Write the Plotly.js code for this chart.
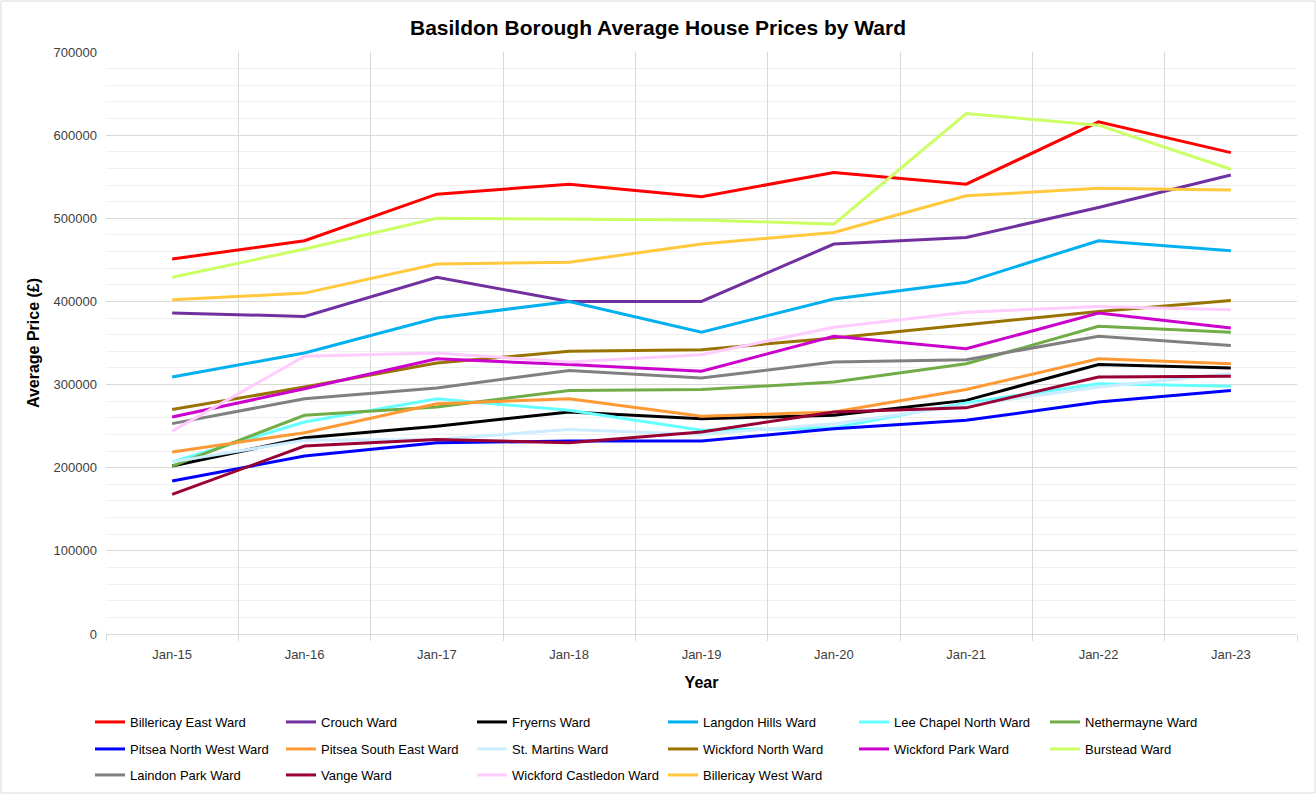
<!DOCTYPE html>
<html>
<head>
<meta charset="utf-8">
<script src="https://cdn.plot.ly/plotly-3.0.1.min.js"></script>
<style>
  body { margin: 0; background: #fff; }
  #chart { width: 1316px; height: 794px; }
</style>
</head>
<body>
<div id="chart"></div>
<script>
let years = ['Jan-15', 'Jan-16', 'Jan-17', 'Jan-18', 'Jan-19', 'Jan-20', 'Jan-21', 'Jan-22', 'Jan-23'];

let wardNames = [
    'Billericay East Ward', 'Crouch Ward', 'Fryerns Ward', 'Langdon Hills Ward',
    'Lee Chapel North Ward', 'Nethermayne Ward', 'Pitsea North West Ward', 'Pitsea South East Ward',
    'St. Martins Ward', 'Wickford North Ward', 'Wickford Park Ward', 'Burstead Ward',
    'Laindon Park Ward', 'Vange Ward', 'Wickford Castledon Ward', 'Billericay West Ward'
];

let billericayEast = [451000, 473000, 529000, 541000, 526000, 555000, 541000, 616000, 579000];
let crouch = [386000, 382000, 429000, 400000, 400000, 469000, 477000, 513000, 552000];
let fryerns = [202000, 236000, 250000, 267000, 259000, 263000, 281000, 324000, 320000];
let langdonHills = [309000, 338000, 380000, 400000, 363000, 403000, 423000, 473000, 461000];
let leeChapelNorth = [207000, 255000, 283000, 269000, 245000, 248000, 278000, 301000, 298000];
let nethermayne = [202000, 263000, 273000, 293000, 294000, 303000, 325000, 370000, 363000];
let pitseaNorthWest = [184000, 214000, 230000, 232000, 232000, 247000, 257000, 279000, 293000];
let pitseaSouthEast = [219000, 242000, 277000, 283000, 262000, 267000, 294000, 331000, 325000];
let stMartins = [207000, 233000, 234000, 246000, 240000, 253000, 275000, 297000, 313000];
let wickfordNorth = [270000, 297000, 326000, 340000, 342000, 356000, 372000, 388000, 401000];
let wickfordPark = [261000, 295000, 331000, 324000, 316000, 358000, 343000, 386000, 368000];
let burstead = [429000, 463000, 500000, 499000, 498000, 493000, 626000, 612000, 559000];
let laindonPark = [253000, 283000, 296000, 317000, 308000, 327000, 330000, 358000, 347000];
let vange = [168000, 226000, 234000, 230000, 243000, 267000, 272000, 309000, 310000];
let wickfordCastledon = [244000, 334000, 338000, 327000, 336000, 369000, 387000, 394000, 390000];
let billericayWest = [402000, 410000, 445000, 447000, 469000, 483000, 527000, 536000, 534000];

let wardValues = [
    billericayEast, crouch, fryerns, langdonHills, leeChapelNorth, nethermayne,
    pitseaNorthWest, pitseaSouthEast, stMartins, wickfordNorth, wickfordPark, burstead,
    laindonPark, vange, wickfordCastledon, billericayWest
];

let wardColors = [
    '#FF0000', '#7030A0', '#000000', '#00B0F0', '#66FFFF', '#70AD47',
    '#0000FF', '#FF9933', '#CCECFF', '#997300', '#CC00CC', '#CCFF66',
    '#808080', '#990033', '#FFCCFF', '#FFC83D'
];

let font = 'Liberation Sans, Arial, sans-serif';

// excel legend has 6 entries per row, one plotly legend per row
let legendIds = ['legend', 'legend2', 'legend3'];

let data = [];
for (let i = 0; i < wardNames.length; i++) {
    data.push({
        x: years,
        y: wardValues[i],
        name: wardNames[i],
        type: 'scatter',
        mode: 'lines',
        hoverinfo: 'skip',
        legend: legendIds[Math.floor(i / 6)],
        line: { color: wardColors[i], width: 3 }
    });
}

// margins match the excel plot area
let ml = 106, mr = 19, mt = 52, mb = 160;
let pw = 1316 - ml - mr, ph = 794 - mt - mb;

function legendRow(topPx) {
    return {
        orientation: 'h',
        x: (90 - ml) / pw,
        xanchor: 'left',
        y: -(topPx - mt - ph) / ph,
        yanchor: 'top',
        entrywidth: 146,
        entrywidthmode: 'pixels',
        itemwidth: 30,
        font: { family: font, size: 13, color: '#000000' },
        bgcolor: 'rgba(0,0,0,0)'
    };
}

let layout = {
    width: 1316,
    height: 794,
    margin: { l: ml, r: mr, t: mt, b: mb, autoexpand: false },
    paper_bgcolor: '#ffffff',
    plot_bgcolor: '#ffffff',
    font: { family: font, size: 13, color: '#595959' },
    title: {
        text: '<b>Basildon Borough Average House Prices by Ward</b>',
        x: 0.5,
        xanchor: 'center',
        y: 0.965,
        yanchor: 'middle',
        font: { family: font, size: 21, color: '#000000' }
    },
    xaxis: {
        type: 'category',
        range: [-0.5, 8.5],
        tickson: 'boundaries',
        ticks: 'outside',
        ticklen: 6,
        tickcolor: '#d9d9d9',
        showgrid: true,
        gridcolor: '#d9d9d9',
        showline: true,
        linecolor: '#d9d9d9',
        linewidth: 1,
        ticklabelstandoff: 8,
        tickfont: { family: font, size: 13, color: '#404040' },
        title: {
            text: '<b>Year</b>',
            standoff: 16,
            font: { family: font, size: 16, color: '#000000' }
        },
        fixedrange: true
    },
    yaxis: {
        range: [0, 700000],
        dtick: 100000,
        tickformat: 'd',
        showgrid: true,
        gridcolor: '#d9d9d9',
        zeroline: false,
        showline: false,
        ticks: '',
        ticklabelstandoff: 8,
        tickfont: { family: font, size: 13, color: '#404040' },
        minor: { dtick: 20000, showgrid: true, gridcolor: '#f0f0f0' },
        title: {
            text: '<b>Average Price (£)</b>',
            standoff: 10,
            font: { family: font, size: 16, color: '#000000' }
        },
        fixedrange: true
    },
    showlegend: true,
    legend: legendRow(707),
    legend2: legendRow(734),
    legend3: legendRow(760),
    shapes: [{
        type: 'rect',
        xref: 'paper',
        yref: 'paper',
        x0: -(ml - 1) / pw,
        x1: 1 + (mr - 1) / pw,
        y0: -(mb - 1) / ph,
        y1: 1 + (mt - 1) / ph,
        line: { color: '#d9d9d9', width: 1 },
        fillcolor: 'rgba(0,0,0,0)',
        layer: 'below'
    }]
};

Plotly.newPlot('chart', data, layout, { staticPlot: true });
</script>
</body>
</html>
